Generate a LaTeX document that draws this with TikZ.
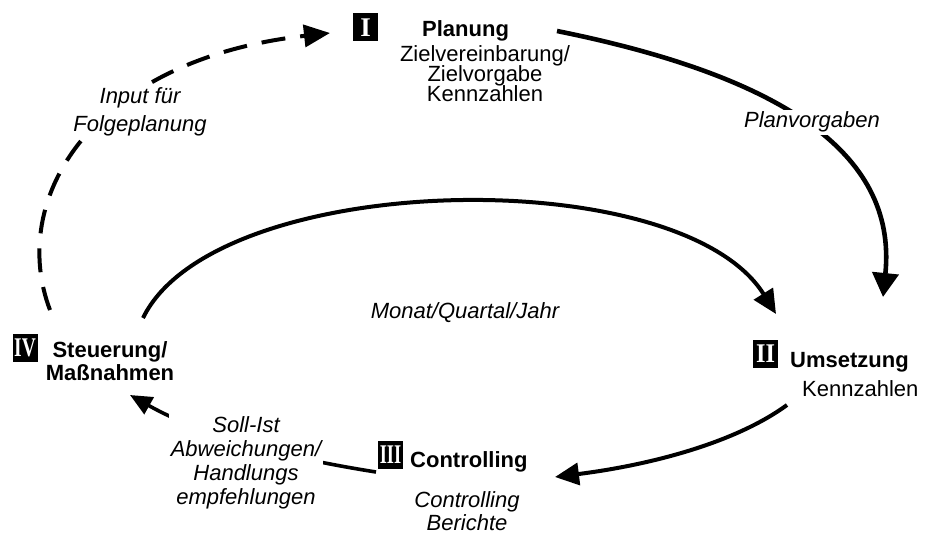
\documentclass[tikz,border=0pt]{standalone}
\usepackage{fontspec}
\usepackage{graphicx}
\setmainfont{Liberation Sans}
\newfontfamily\badgefont{Liberation Serif}
\usetikzlibrary{arrows.meta}

\begin{document}
\begin{tikzpicture}[x=1pt,y=-1pt,
  every node/.style={inner sep=0pt, text=black},
  badge/.style={fill=black, text=white, minimum width=25pt, minimum height=28pt,
    font=\badgefont\bfseries\fontsize{27}{27}\selectfont},
  title/.style={font=\bfseries\fontsize{22}{23}\selectfont\lineskiplimit-50pt, align=center},
  plain/.style={font=\fontsize{22}{20}\selectfont\lineskiplimit-50pt, align=center},
  note/.style={font=\itshape\fontsize{22}{24}\selectfont\lineskiplimit-50pt, align=center,
    fill=white, inner sep=2pt},
  flow/.style={line width=4pt, -{Triangle[length=24pt,width=22pt]}},
]
\fill[white] (0,0) rectangle (933,534);
\useasboundingbox (0,0) rectangle (933,534);

% phase I
\node[badge] (b1) at (365.5,27.5) {I};
\node[title, anchor=base west] (t1) at (422,37) {Planung};
\node[plain, anchor=north] (d1) at (485,45) {Zielvereinbarung/\\Zielvorgabe\\Kennzahlen};

% phase II
\node[badge] (b2) at (765.5,353.5) {\scalebox{0.9}[1]{II}};
\node[title, anchor=base west] (t2) at (790,367) {Umsetzung};
\node[plain, anchor=base west] (d2) at (802,396) {Kennzahlen};

% phase III
\node[badge] (b3) at (390.5,455) {\scalebox{0.68}[1]{III}};
\node[title, anchor=base west] (t3) at (410,467) {Controlling};
\node[plain, font=\itshape\fontsize{22}{23}\selectfont\lineskiplimit-50pt, anchor=north] (d3) at (467,491) {Controlling\\Berichte};

% phase IV
\node[badge] (b4) at (25,347.5) {\scalebox{0.72}[1]{IV}};
\node[title, anchor=north] (t4) at (110,341) {Steuerung/\\Maßnahmen};

% connector ends
\coordinate (a1s) at (557,31);
\coordinate (a1e) at (883,297);
\coordinate (a2s) at (143,318);
\coordinate (a2e) at (776,314);
\coordinate (a3s) at (787,405);
\coordinate (a3e) at (555,477);
\coordinate (a4s) at (376,472);
\coordinate (a4e) at (130,395);
\coordinate (a5s) at (50,310);
\coordinate (a5e) at (330,33);

% cycle arrows
\draw[flow, line width=4.6pt, -{Triangle[length=24pt,width=26pt]}]
  (a1s) .. controls (775,75) and (898,150) .. (a1e);
\draw[flow] (a2s) .. controls (215,170) and (680,160) .. (a2e);
\draw[flow] (a3s) .. controls (735,443) and (650,465) .. (a3e);
\draw[flow, line width=3.6pt, -{Triangle[length=22pt,width=19pt]}]
  (a4s) .. controls (300,460) and (210,440) .. (a4e);
\draw[flow, dash pattern=on 24pt off 15pt, -{Triangle[length=26pt,width=22pt]}]
  (a5s) .. controls (8,200) and (90,60) .. (a5e);

% arrow labels
\node[note, anchor=base] (l1) at (812,128) {Planvorgaben};
\node[note, font=\itshape\fontsize{22}{28}\selectfont\lineskiplimit-50pt, anchor=north] (l2) at (140,85) {Input für\\Folgeplanung};
\node[note, anchor=north] (l3) at (246,414) {Soll-Ist\\Abweichungen/\\Handlungs\\empfehlungen};
\node[note, fill=none, anchor=base] (l4) at (465,318) {Monat/Quartal/Jahr};
\end{tikzpicture}
\end{document}
